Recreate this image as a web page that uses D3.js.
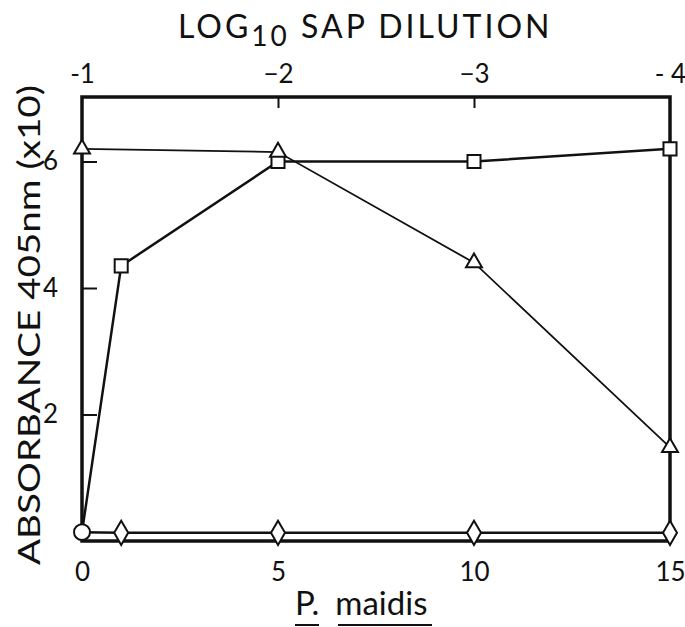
<!DOCTYPE html>
<html>
<head>
<meta charset="utf-8">
<script src="https://cdn.jsdelivr.net/npm/d3@7"></script>
<style>
  body { margin: 0; background: #fff; }
  text { font-family: Lato, "Open Sans", sans-serif; fill: #111; }
</style>
</head>
<body>
<div id="chart"></div>
<script>
// data
var triangleX = [0, 5, 10, 15];
var triangleY = [6.2, 6.15, 4.4, 1.48];
var squareX = [0, 1, 5, 10, 15];
var squareY = [0.14, 4.35, 6.0, 6.0, 6.2];
var diamondX = [1, 5, 10, 15];
var diamondY = [0.13, 0.13, 0.13, 0.13];
var circleX = [0];
var circleY = [0.14];
var bottomTicks = [0, 5, 10, 15];
var bottomLabels = ["0", "5", "10", "15"];
var topLabels = ["-1", "\u22122", "\u22123", "- 4"];
var leftTicks = [2, 4, 6];

var W = 685, H = 627;
var margin = {top: 97, right: 15, bottom: 86, left: 82},
    width = W - margin.left - margin.right,
    height = H - margin.top - margin.bottom;

var svg = d3.select("#chart")
  .append("svg")
    .attr("width", W)
    .attr("height", H)
  .append("g")
    .attr("transform", "translate(" + margin.left + "," + margin.top + ")");

var x = d3.scaleLinear().domain([0, 15]).range([0, width]);
var y = d3.scaleLinear().domain([0, 7.02]).range([height, 0]);

// axes (ticks point inward)
var topAxis = svg.append("g")
  .call(d3.axisTop(x).tickValues(bottomTicks).tickSize(-11).tickPadding(14)
    .tickFormat(function(d, i) { return topLabels[i]; }));
var botAxis = svg.append("g")
  .attr("transform", "translate(0," + height + ")")
  .call(d3.axisBottom(x).tickValues(bottomTicks).tickSize(-10).tickPadding(22)
    .tickFormat(function(d, i) { return bottomLabels[i]; }));
var leftAxis = svg.append("g")
  .call(d3.axisLeft(y).tickValues(leftTicks).tickSize(-15).tickPadding(24)
    .tickFormat(d3.format("d")));

[topAxis, botAxis, leftAxis].forEach(function(a) {
  a.select(".domain").remove();
  a.selectAll(".tick line").attr("stroke", "#111").attr("stroke-width", 2);
  a.selectAll(".tick text").style("font-size", "26px").style("font-family", "Lato, sans-serif");
});
// hide the edge tick lines on top/bottom
topAxis.selectAll(".tick line").filter(function(d) { return d === 0 || d === 15; }).remove();
botAxis.selectAll(".tick line").filter(function(d) { return d === 0 || d === 15; }).remove();

// frame
svg.append("rect")
  .attr("x", 0).attr("y", 0)
  .attr("width", width).attr("height", height)
  .attr("fill", "none")
  .attr("stroke", "#111")
  .attr("stroke-width", 3.5);

function pts(xs, ys) { return xs.map(function(v, i) { return [v, ys[i]]; }); }
var line = d3.line().x(function(d) { return x(d[0]); }).y(function(d) { return y(d[1]); });

// diamond baseline runs from the common start point
svg.append("path").attr("d", line(pts([0].concat(diamondX), [0.14].concat(diamondY))))
  .attr("fill", "none").attr("stroke", "#111").attr("stroke-width", 2.5);
svg.append("path").attr("d", line(pts(squareX, squareY)))
  .attr("fill", "none").attr("stroke", "#111").attr("stroke-width", 2.5);
svg.append("path").attr("d", line(pts(triangleX, triangleY)))
  .attr("fill", "none").attr("stroke", "#111").attr("stroke-width", 1.8);

function markers(xs, ys, type, size) {
  svg.selectAll(null)
    .data(pts(xs, ys))
    .enter()
    .append("path")
      .attr("d", d3.symbol().type(type).size(size))
      .attr("transform", function(d) { return "translate(" + x(d[0]) + "," + y(d[1]) + ")"; })
      .attr("fill", "#fff")
      .attr("stroke", "#111")
      .attr("stroke-width", 2);
}
markers(diamondX, diamondY, d3.symbolDiamond, 170);
markers(squareX.slice(1), squareY.slice(1), d3.symbolSquare, 170);
markers(triangleX, triangleY, d3.symbolTriangle, 110);
markers(circleX, circleY, d3.symbolCircle, 200);

// titles
var title = d3.select("svg").append("text")
  .attr("x", 178).attr("y", 38)
  .style("font-size", "32px")
  .style("letter-spacing", "3px");
title.append("tspan").text("LOG");
title.append("tspan").attr("dy", 8).style("font-size", "28px").text("10");
title.append("tspan").attr("dy", -8).text(" SAP DILUTION");

d3.select("svg").append("text")
  .attr("transform", "translate(40," + (margin.top + 228) + ") rotate(-90)")
  .attr("text-anchor", "middle")
  .attr("textLength", 480)
  .attr("lengthAdjust", "spacingAndGlyphs")
  .style("font-size", "30px")
  .text("ABSORBANCE 405nm (x10)");

var xl = d3.select("svg").append("text")
  .attr("x", 295).attr("y", 615)
  .style("font-size", "33px");
xl.append("tspan").text("P.");
xl.append("tspan").attr("dx", 16).text("maidis");
d3.select("svg").append("line").attr("x1", 295).attr("x2", 319).attr("y1", 625).attr("y2", 625)
  .attr("stroke", "#111").attr("stroke-width", 2);
d3.select("svg").append("line").attr("x1", 338).attr("x2", 432).attr("y1", 625).attr("y2", 625)
  .attr("stroke", "#111").attr("stroke-width", 2);
</script>
</body>
</html>
